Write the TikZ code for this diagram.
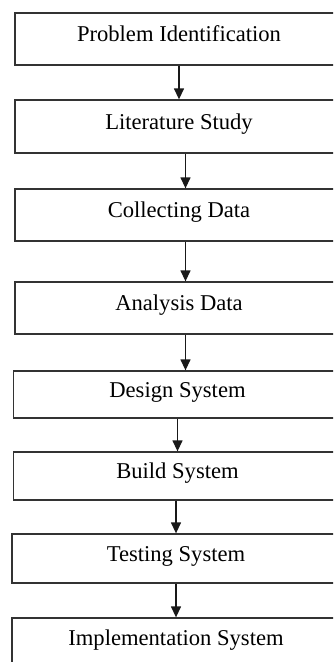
\documentclass[tikz,border=0pt]{standalone}
\usepackage{fontspec}
\setmainfont{Liberation Serif}
\usetikzlibrary{arrows.meta}

\begin{document}
\begin{tikzpicture}[
  x=1pt, y=-1pt,
  stage/.style={draw=black!80, line width=1.3pt, minimum width=328pt, minimum height=52pt,
    text height=15pt, text depth=10pt, font=\fontsize{22.6}{26}\selectfont},
  flow/.style={draw=black!90, line width=1.3pt, -{Triangle[length=11pt, width=10pt]}},
]
  \clip (0,0) rectangle (333,662);
  \node[stage] (prob)  at (179, 39)    {Problem Identification};
  \node[stage, minimum height=53pt] (lit) at (179, 126.5) {Literature Study};
  \node[stage] (col)   at (179, 215)   {Collecting Data};
  \node[stage] (ana)   at (179, 308)   {Analysis Data};
  \node[stage, minimum height=47pt] (des)   at (177.5, 394.5) {Design System};
  \node[stage, minimum height=48pt] (build) at (177.5, 476)   {Build System};
  \node[stage, minimum height=49pt] (test)  at (176, 558.5)   {Testing System};
  \node[stage, minimum height=50pt] (impl)  at (176, 643)     {Implementation System};

  \draw[flow] (prob) -- (lit);
  \draw[flow] ([xshift=6.5pt]lit.south) -- ([xshift=6.5pt]col.north);
  \draw[flow] ([xshift=6.5pt]col.south) -- ([xshift=6.5pt]ana.north);
  \draw[flow] ([xshift=6.5pt]ana.south) -- ([xshift=8pt]des.north);
  \draw[flow] (des) -- (build);
  \draw[flow] (build.south -| test.north) -- (test);
  \draw[flow] (test) -- (impl);
\end{tikzpicture}
\end{document}
